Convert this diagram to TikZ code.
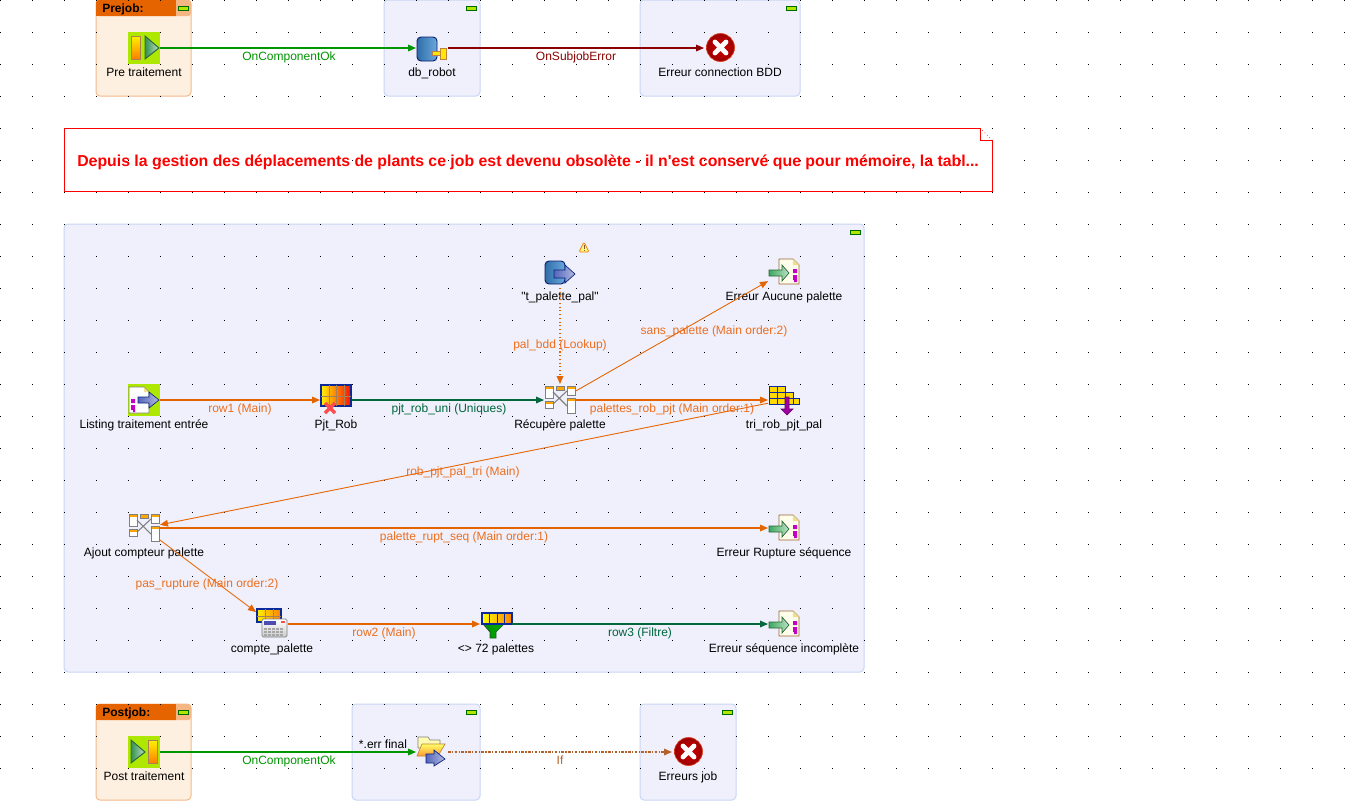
\documentclass[tikz,border=0pt]{standalone}
\usepackage{fontspec}
\usetikzlibrary{arrows.meta}
\newfontfamily\tosfont{Liberation Sans}

\definecolor{mainorange}{HTML}{E66400}
\definecolor{labelorange}{HTML}{EC6E1E}
\definecolor{okgreen}{HTML}{009600}
\definecolor{unigreen}{HTML}{00663C}
\definecolor{errred}{HTML}{8C0000}
\definecolor{ifbrown}{HTML}{B4622A}
\definecolor{panelblue}{HTML}{EFF0FB}
\definecolor{edgeblue}{HTML}{C9D6F5}
\definecolor{panelpeach}{HTML}{FEF0E0}
\definecolor{edgepeach}{HTML}{F5B98A}
\definecolor{btnpeach}{HTML}{F6B683}
\definecolor{iconlime}{HTML}{AEE800}
\definecolor{navy}{HTML}{0A2A9A}
\definecolor{mauve}{HTML}{5566BB}
\definecolor{leaf}{HTML}{3FA85F}
\definecolor{cyldark}{HTML}{2E6DA8}
\definecolor{cyllight}{HTML}{6AA8DC}
\definecolor{semi}{HTML}{C400C4}

\tikzset{
    iconbox/.style={minimum size=24pt, inner sep=0pt, outer sep=0pt},
    complabel/.style={font=\tosfont\fontsize{9}{11}\selectfont, text=black, inner sep=0pt, anchor=base},
    wirelabel/.style={font=\tosfont\fontsize{9}{11}\selectfont, inner sep=0pt, anchor=base},
    wire/.style={line width=.8pt, -{Triangle[length=6pt,width=5pt]}},
    thinwire/.style={line width=.65pt, -{Triangle[length=6pt,width=5pt]}},
    subjob/.style={fill=panelblue, draw=edgeblue, line width=.75pt, rounded corners=3pt},
    prepost/.style={fill=panelpeach, draw=edgepeach, line width=.75pt, rounded corners=3pt},
    arrowblue/.style={left color=mauve, right color=mauve!45, draw=navy!80!black, line width=.5pt},
    arrowgreen/.style={left color=leaf, right color=leaf!35, draw=leaf!60!black, line width=.5pt},
    % icons, all drawn around the centre of their node
    starticon/.pic={
        \fill[iconlime] (-16,-16) rectangle (16,16);
        \draw[line width=.7pt, draw=brown!70!gray, top color=yellow!90!orange, bottom color=orange] (-13,-12) rectangle (-4,11);
        \draw[line width=.7pt, draw=leaf!60!black, left color=leaf!85!black, right color=leaf!35] (1,-12) -- (15,0) -- (1,11) -- cycle;
    },
    endicon/.pic={
        \fill[iconlime] (-16,-16) rectangle (16,16);
        \draw[line width=.7pt, draw=leaf!60!black, left color=leaf!85!black, right color=leaf!35] (-13,-12) -- (1,0) -- (-13,11) -- cycle;
        \draw[line width=.7pt, draw=brown!70!gray, top color=yellow!90!orange, bottom color=orange] (4,-12) rectangle (13,11);
    },
    dbicon/.pic={
        \draw[line width=.7pt, draw=navy!70!black, left color=cyldark, right color=cyllight, rounded corners=3pt] (-15,-11) rectangle (5,13);
        \draw[line width=.5pt, draw=brown, fill=yellow!90!orange] (0,3) rectangle (9,7);
        \draw[line width=.5pt, draw=brown, fill=yellow!90!orange] (8,0) rectangle (14,11);
    },
    erricon/.pic={
        \draw[line width=.5pt, draw=red!50!brown, inner color=red!85!black, outer color=red!60!black] (.5,-.5) circle (14);
        \draw[white, line width=3.6pt, line cap=round] (-5,-6) -- (6,5) (-5,5) -- (6,-6);
    },
    readicon/.pic={
        \draw[line width=.7pt, draw=navy!70!black, left color=cyldark, right color=cyllight, rounded corners=3pt] (-15,-11) rectangle (5,12);
        \draw[arrowblue] (-6,-2) -- (5,-2) -- (5,-7) -- (15,2) -- (5,11) -- (5,6) -- (-6,6) -- cycle;
    },
    writeicon/.pic={
        \draw[line width=.7pt, draw=brown!80!black, fill=yellow!8] (-5,-13) -- (9,-13) -- (15,-7) -- (15,12) -- (-5,12) -- cycle;
        \fill[yellow!50!brown!50] (9,-13) -- (15,-7) -- (9,-7) -- cycle;
        \fill[semi] (9,-3) rectangle (13,1) (9,3) rectangle (13,8) (10,8) rectangle (13,10);
        \draw[arrowgreen] (-15,-2) -- (-2,-2) -- (-2,-7) -- (5,1) -- (-2,9) -- (-2,4) -- (-15,4) -- cycle;
    },
    listicon/.pic={
        \fill[iconlime] (-16,-16) rectangle (16,16);
        \draw[line width=.7pt, draw=gray, fill=white] (-15,-13) -- (0,-13) -- (5,-8) -- (5,13) -- (-15,13) -- cycle;
        \fill[yellow!50!brown!50] (0,-13) -- (5,-8) -- (0,-8) -- cycle;
        \fill[semi] (-13,-1) rectangle (-9,3) (-13,5) rectangle (-9,10) (-11,10) rectangle (-9,12);
        \draw[arrowblue] (-6,-3) -- (5,-3) -- (5,-8) -- (15,0) -- (5,8) -- (5,3) -- (-6,3) -- cycle;
    },
    tableicon/.pic={
        \draw[line width=.8pt, draw=navy, left color=yellow!90!orange, right color=red!90!orange] (-15,-15) rectangle (15,6);
        \draw[line width=.5pt, draw=brown!60!gray] (-15,-4) -- (15,-4) (-7,-15) -- (-7,6) (0,-15) -- (0,6) (8,-15) -- (8,6);
        \draw[red!70!white, line width=2.6pt] (-11,3) -- (-1,13) (-11,13) -- (-1,3);
    },
    mapicon/.pic={
        \foreach \ax/\ay/\bx/\by in {-15/-14/-7/-2,-15/1/-7/8,7/-14/15/-5,7/-2/15/13} {
            \draw[line width=.6pt, draw=gray, fill=white] (\ax,\ay) rectangle (\bx,\by);
            \fill[orange!70!yellow] (\ax+.5,\ay+.5) rectangle (\bx-.5,\ay+3);
        }
        \draw[line width=.6pt, draw=gray, fill=orange!70!yellow] (-4,-14) rectangle (4,-10);
        \draw[line width=.8pt, draw=gray] (-7,-8) -- (7,6) (-7,4) -- (7,-9);
    },
    sorticon/.pic={
        \draw[line width=.75pt, draw=navy, fill=orange!30!yellow] (-15,-14) rectangle (1,-8) (-15,-8) rectangle (9,-2) (-15,-2) rectangle (15,4);
        \draw[line width=.5pt, draw=navy] (-7,-14) -- (-7,4) (1,-8) -- (1,4) (9,-2) -- (9,4);
        \draw[line width=.5pt, draw=violet!80!black, fill=violet!75!magenta] (1,-3) -- (5,-3) -- (5,9) -- (9,9) -- (3,15) -- (-3,9) -- (1,9) -- cycle;
    },
    counticon/.pic={
        \draw[line width=.8pt, draw=navy, left color=yellow!90!orange, right color=orange] (-15,-15) rectangle (9,-2);
        \draw[line width=.5pt, draw=brown!60!gray] (-15,-8) -- (9,-8) (-7,-15) -- (-7,-2) (1,-15) -- (1,-2);
        \draw[line width=.6pt, draw=gray, top color=white, bottom color=gray!40, rounded corners=1pt] (-10,-5) rectangle (15,13);
        \fill[blue!40!gray] (-8,-3) rectangle (4,1);
        \fill[red!70!white] (9,-3) rectangle (13,-1);
        \foreach \ky in {4,7,10} {
            \foreach \kx in {-8,-4,0,4,8} {
                \fill[gray!70] (\kx,\ky) rectangle (\kx+3,\ky+2);
            }
        }
    },
    filtericon/.pic={
        \draw[line width=.5pt, draw=leaf!50!black, left color=green!55!black, right color=green!70!black] (-13,0) -- (8,0) -- (0,8) -- (0,14) -- (-6,14) -- (-6,8) -- cycle;
        \draw[line width=.8pt, draw=navy, left color=yellow, right color=orange] (-14,-11) rectangle (16,0);
        \draw[line width=.5pt, draw=navy] (-7,-11) -- (-7,0) (1,-11) -- (1,0) (8,-11) -- (8,0);
    },
    foldericon/.pic={
        \draw[line width=.5pt, draw=gray, fill=yellow!30] (-14,-15) -- (-4,-15) -- (-2,-12) -- (8,-12) -- (8,-4) -- (-14,-4) -- cycle;
        \draw[line width=.5pt, draw=brown, top color=yellow!60, bottom color=orange!80] (-10,-8) -- (13,-8) -- (6,4) -- (-15,4) -- cycle;
        \draw[arrowblue] (-6,2) -- (2,2) -- (2,-2) -- (13,7) -- (2,14) -- (2,11) -- (-6,11) -- cycle;
    },
    warnicon/.pic={
        \draw[line width=.6pt, draw=orange!80!brown, fill=yellow!50, rounded corners=1pt] (0,-5) -- (5,5) -- (-5,5) -- cycle;
        \draw[line width=.7pt, draw=brown!70!black] (0,-2) -- (0,2) (0,3) -- (0,4);
    },
    collapse/.pic={
        \draw[line width=.6pt, draw=green!40!black, fill=iconlime] (-5,-2) rectangle (5,2);
    }
}

\begin{document}
\begin{tikzpicture}[x=.75pt,y=-.75pt]
    \useasboundingbox (0,0) rectangle (1348,800);
    \fill[white] (0,0) rectangle (1348,800);

    % Subjob panels
    \draw[prepost] (96,0) rectangle (191,96);
    \draw[prepost] (96,704) rectangle (191,800);
    \foreach \ax/\ay/\bx/\by in {384/0/480/96,640/0/800/96,64/224/864/672,352/704/480/800,640/704/736/800} {
        \draw[subjob] (\ax,\ay) rectangle (\bx,\by);
    }

    % Orange headers of prejob and postjob
    \foreach \hy in {0,704} {
        \fill[mainorange, rounded corners=2pt] (96,\hy) rectangle (180,\hy+16);
        \fill[mainorange] (96,\hy+8) rectangle (176,\hy+16);
        \fill[btnpeach, rounded corners=2pt] (176,\hy) rectangle (191,\hy+16);
        \fill[btnpeach] (176,\hy) rectangle (184,\hy+16);
    }
    \node[complabel, anchor=base west, font=\tosfont\bfseries\fontsize{9}{11}\selectfont] (prehead) at (102,12) {Prejob:};
    \node[complabel, anchor=base west, font=\tosfont\bfseries\fontsize{9}{11}\selectfont] (posthead) at (102,716) {Postjob:};

    % Collapse buttons
    \foreach \bx/\by in {183/8,471/8,791/8,855/232,183/712,471/712,727/712} {
        \pic at (\bx,\by) {collapse};
    }

    % Grid dots
    \foreach \gx in {0,32,...,1344} {
        \foreach \gy in {0,32,...,768} {
            \fill[black] (\gx,\gy) rectangle +(1,1);
        }
    }

    % Note
    \draw[red, line width=.75pt] (980,128) -- (64,128) -- (64,191.5) -- (992,191.5) -- (992,140) -- (980,140) -- cycle;
    \draw[red, line width=.5pt, dotted] (980,128) -- (992,140);
    \node[wirelabel, anchor=base west, text=red, font=\tosfont\bfseries\fontsize{11.88}{14}\selectfont] (note) at (77,166) {Depuis la gestion des déplacements de plants ce job est devenu obsolète - il n'est conservé que pour mémoire, la tabl...};

    % Components with the text under them
    \foreach \nm/\x/\y/\ic/\txt in {
        pre/144/48/starticon/Pre traitement,
        db/432/48/dbicon/db\_robot,
        errbdd/720/48/erricon/Erreur connection BDD,
        palpal/560/272/readicon/"t\_palette\_pal",
        erraucune/784/272/writeicon/Erreur Aucune palette,
        listing/144/400/listicon/Listing traitement entrée,
        pjtrob/336/400/tableicon/Pjt\_Rob,
        recupere/560/400/mapicon/Récupère palette,
        tri/784/400/sorticon/tri\_rob\_pjt\_pal,
        ajout/144/528/mapicon/Ajout compteur palette,
        errrupt/784/528/writeicon/Erreur Rupture séquence,
        compte/272/624/counticon/compte\_palette,
        filter/496/624/filtericon/<> 72 palettes,
        errseq/784/624/writeicon/Erreur séquence incomplète,
        post/144/752/endicon/Post traitement,
        errjob/688/752/erricon/Erreurs job} {
        \node[iconbox] (\nm) at (\x,\y) {};
        \pic at (\nm) {\ic};
        \node[complabel] (\nm lb) at (\x,\y+28) {\txt};
    }
    \node[iconbox] (folder) at (432,752) {};
    \pic at (folder) {foldericon};
    \node[complabel] (folderlb) at (383,748) {*.err final};
    \pic at (584,247) {warnicon};

    % Connectors
    \draw[wire, okgreen] (pre) -- (db);
    \draw[wire, errred] (db) -- (errbdd);
    \draw[wire, mainorange] (listing) -- (pjtrob);
    \draw[wire, unigreen] (pjtrob) -- (recupere);
    \draw[wire, mainorange, dotted] (palpal) -- (recupere);
    \draw[thinwire, mainorange] (recupere) -- (erraucune);
    \draw[wire, mainorange] (recupere) -- (tri);
    \draw[thinwire, mainorange] (tri) -- (ajout);
    \draw[wire, mainorange] (ajout) -- (errrupt);
    \draw[thinwire, mainorange] (ajout) -- (compte);
    \draw[wire, mainorange] (compte) -- (filter);
    \draw[wire, unigreen] (filter) -- (errseq);
    \draw[wire, okgreen] (post) -- (folder);
    \draw[wire, ifbrown, dash pattern=on 2pt off 1pt on 1pt off 1pt] (folder) -- (errjob);

    % Connector labels
    \foreach \nm/\x/\y/\col/\txt in {
        lbok/289/60/okgreen/OnComponentOk,
        lberr/576/60/errred/OnSubjobError,
        lbrowa/240/412/labelorange/row1 (Main),
        lbuni/449/412/unigreen/pjt\_rob\_uni (Uniques),
        lblookup/560/348/labelorange/pal\_bdd (Lookup),
        lbsans/714/334/labelorange/sans\_palette (Main order:2),
        lbpals/672/412/labelorange/palettes\_rob\_pjt (Main order:1),
        lbtri/463/475/labelorange/rob\_pjt\_pal\_tri (Main),
        lbrupt/464/540/labelorange/palette\_rupt\_seq (Main order:1),
        lbpas/207/587/labelorange/pas\_rupture (Main order:2),
        lbrowb/384/636/labelorange/row2 (Main),
        lbrowc/640/636/unigreen/row3 (Filtre),
        lbokb/289/764/okgreen/OnComponentOk,
        lbif/560/764/ifbrown/If} {
        \node[wirelabel, text=\col] (\nm) at (\x,\y) {\txt};
    }
\end{tikzpicture}
\end{document}
